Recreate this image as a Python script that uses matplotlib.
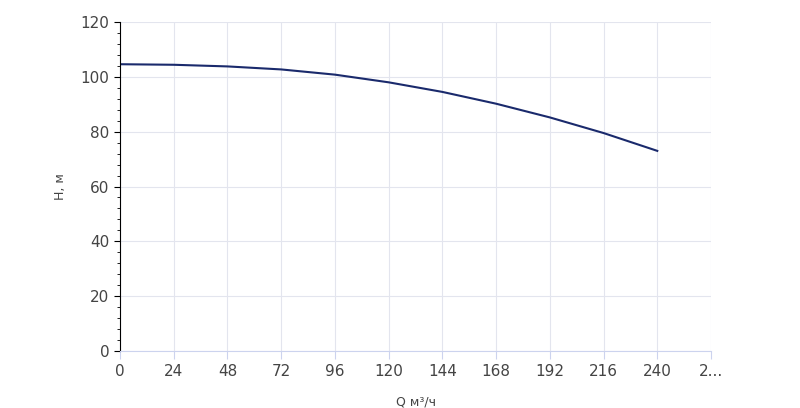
import matplotlib
matplotlib.use("Agg")
import matplotlib.pyplot as plt
from matplotlib.ticker import MultipleLocator

q = [0, 24, 48, 72, 96, 120, 144, 168, 192, 216, 240]
h = [104.6, 104.4, 103.8, 102.7, 100.8, 98.0, 94.5, 90.2, 85.2, 79.5, 73.0]
xticks = [0, 24, 48, 72, 96, 120, 144, 168, 192, 216, 240, 264]
xlabels = ["0", "24", "48", "72", "96", "120", "144", "168", "192", "216", "240", "2..."]

fig = plt.figure(figsize=(8, 4.08), dpi=100)
ax = fig.add_axes([120/800, 1-351/408, (711-120)/800, (351-22)/408])
ax.plot(q, h, color="#1a2a6c", lw=1.5)
ax.set_xlim(0, 264)
ax.set_ylim(0, 120)
ax.set_xticks(xticks)
ax.set_xticklabels(xlabels)
ax.set_yticks(range(0, 121, 20))
ax.yaxis.set_minor_locator(MultipleLocator(4))
ax.grid(True, color="#e3e5ee", lw=0.8)
for s in ["top", "right"]:
    ax.spines[s].set_visible(False)
ax.spines["bottom"].set_color("#ccd3ee")
ax.spines["left"].set_color("black")
ax.tick_params(axis="x", length=6, color="#ccd3ee", labelsize=11, labelcolor="#444")
ax.tick_params(axis="y", which="major", length=4, color="black", labelsize=11, labelcolor="#444")
ax.tick_params(axis="y", which="minor", length=2, color="black")
ax.set_xlabel("Q м³/ч", fontsize=9, color="#444", labelpad=12)
ax.set_ylabel("H, м", fontsize=9, color="#444", labelpad=10)
fig.savefig("out.png")
